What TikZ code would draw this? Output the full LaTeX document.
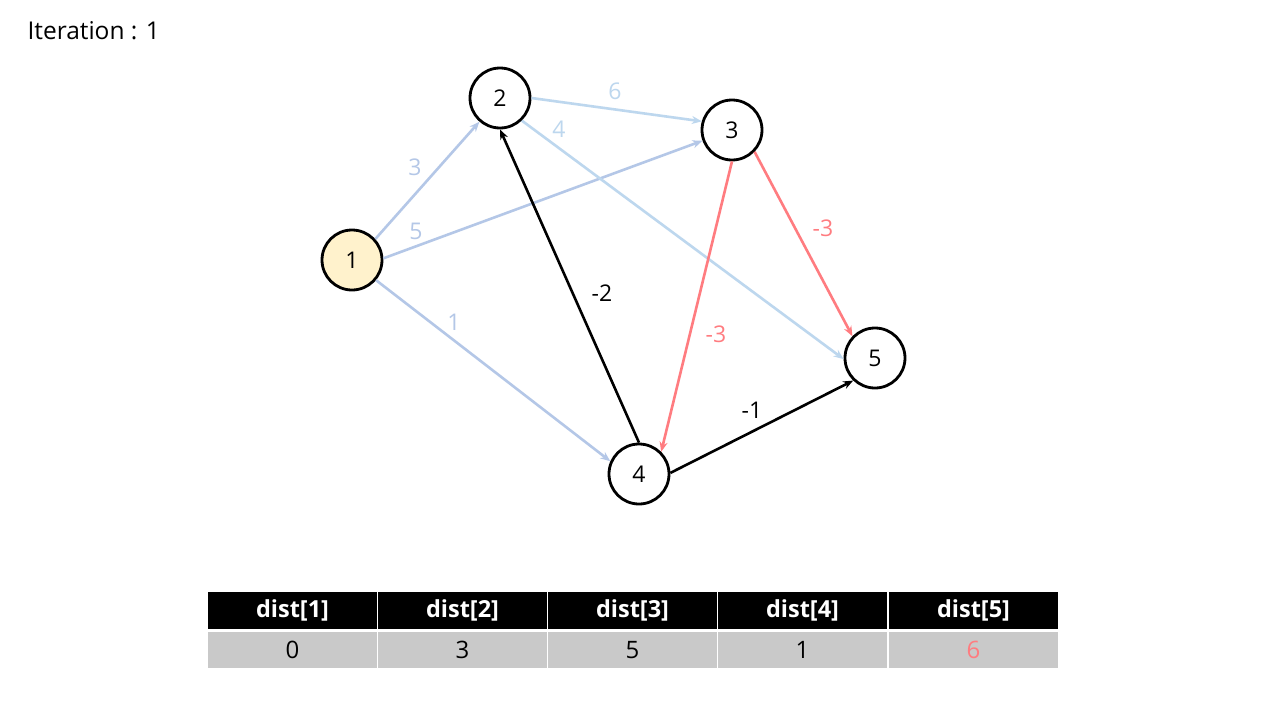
\documentclass[tikz,border=0pt]{standalone}
\usepackage{fontspec}
\setmainfont{Open Sans}
\usetikzlibrary{arrows.meta}
\definecolor{eblue}{HTML}{B4C7E7}
\definecolor{lblue}{HTML}{BDD7EE}
\definecolor{ered}{HTML}{FF7C80}
\definecolor{nfill}{HTML}{FFF2CC}
\definecolor{cellgray}{HTML}{C9C9C9}
\begin{document}
\begin{tikzpicture}[x=1pt,y=-1pt,
  vert/.style={circle,draw=black,line width=2.8pt,minimum size=60pt,inner sep=0pt,font=\fontsize{23}{26}\selectfont},
  edge/.style={line width=2.6pt,-{Stealth[length=10pt,width=8pt]}},
  elab/.style={font=\fontsize{23}{26}\selectfont},
  hcell/.style={fill=black,text=white,minimum width=168.5pt,minimum height=37pt,inner sep=0pt,font=\fontsize{23.5}{26}\selectfont\bfseries},
  bcell/.style={fill=cellgray,text=black,minimum width=168.5pt,minimum height=36pt,inner sep=0pt,font=\fontsize{24}{26}\selectfont}]
\useasboundingbox (0,0) rectangle (1280,720);
\fill[white] (0,0) rectangle (1280,720);
\node[anchor=west,font=\fontsize{24.5}{28}\selectfont] (title) at (24,31) {Iteration : 1};
% vertices
\node[vert,fill=nfill] (n1) at (352,260) {1};
\node[vert] (n2) at (500,98) {2};
\node[vert] (n3) at (732,130) {3};
\node[vert] (n4) at (639,474) {4};
\node[vert] (n5) at (875,358) {5};
% edges
\draw[edge,eblue] (n1.42) -- (n2.229);
\draw[edge,eblue] (n1.3) -- (n3.200);
\draw[edge,eblue] (n1.-40) -- (n4.156);
\draw[edge,lblue] (n2.east) -- (n3.164);
\draw[edge,lblue] (n2.-46) -- (n5.182);
\draw[edge,black] (n4.north) -- (n2.south);
\draw[edge,ered] (n3.south) -- (n4.45);
\draw[edge,ered] (n3.-44) -- (n5.136);
\draw[edge,black] (n4.2) -- (n5.226);
% labels
\node[elab,text=eblue] (l12) at (415,167) {3};
\node[elab,text=eblue] (l13) at (416,231) {5};
\node[elab,text=eblue] (l14) at (454,322) {1};
\node[elab,text=lblue] (l23) at (615,91) {6};
\node[elab,text=lblue] (l25) at (559,129) {4};
\node[elab] (l42) at (602,293) {-2};
\node[elab,text=ered] (l34) at (716,334) {-3};
\node[elab,text=ered] (l35) at (823,228) {-3};
\node[elab] (l45) at (752,410) {-1};
% table
\foreach \i/\v in {1/0,2/3,3/5,4/1} {
  \node[hcell] (h\i) at (292.5+170*\i-170,610.5) {dist[\i]};
  \node[bcell] (b\i) at (292.5+170*\i-170,650) {\v};
}
\node[hcell] (h5) at (973.5,610.5) {dist[5]};
\node[bcell,text=ered] (b5) at (973.5,650) {6};
\end{tikzpicture}
\end{document}
